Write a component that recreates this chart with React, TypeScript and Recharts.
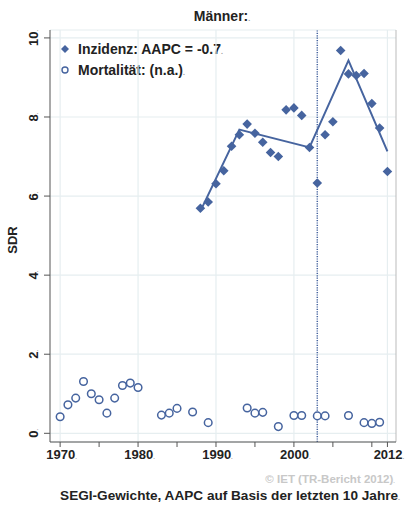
import React from "react";
import {
  ComposedChart,
  Scatter,
  Line,
  XAxis,
  YAxis,
  CartesianGrid,
  ReferenceLine,
} from "recharts";

// ---- data ----
const incidenceYears = [1988, 1989, 1990, 1991, 1992, 1993, 1994, 1995, 1996, 1997, 1998, 1999, 2000, 2001, 2002, 2003, 2004, 2005, 2006, 2007, 2008, 2009, 2010, 2011, 2012];
const incidenceValues = [5.69, 5.85, 6.31, 6.64, 7.26, 7.55, 7.82, 7.59, 7.36, 7.1, 7.0, 8.18, 8.23, 8.04, 7.23, 6.33, 7.55, 7.88, 9.68, 9.09, 9.05, 9.1, 8.34, 7.72, 6.62];

const mortalityYears = [1970, 1971, 1972, 1973, 1974, 1975, 1976, 1977, 1978, 1979, 1980, 1983, 1984, 1985, 1987, 1989, 1994, 1995, 1996, 1998, 2000, 2001, 2003, 2004, 2007, 2009, 2010, 2011];
const mortalityValues = [0.42, 0.72, 0.89, 1.31, 1.0, 0.85, 0.51, 0.89, 1.21, 1.27, 1.16, 0.46, 0.51, 0.63, 0.54, 0.27, 0.64, 0.51, 0.53, 0.17, 0.45, 0.45, 0.44, 0.44, 0.45, 0.27, 0.25, 0.28];

const trendYears = [1988, 1993, 2002, 2007, 2012];
const trendValues = [5.62, 7.68, 7.23, 9.43, 7.13];

const xTicks = [1970, 1975, 1980, 1985, 1990, 1995, 2000, 2005, 2010, 2012];
const xLabelled = [1970, 1980, 1990, 2000, 2012];
const yTicks = [0, 2, 4, 6, 8, 10];
const refYear = 2003;

const title = "Männer:";
const legendInc = "Inzidenz: AAPC = -0.7";
const legendMort = "Mortalität: (n.a.)";
const yLabel = "SDR";
const credit = "© IET (TR-Bericht 2012)";
const footnote = "SEGI-Gewichte, AAPC auf Basis der letzten 10 Jahre";

const incidence = incidenceYears.map((year, i) => ({ year, value: incidenceValues[i] }));
const mortality = mortalityYears.map((year, i) => ({ year, value: mortalityValues[i] }));
const trend = trendYears.map((year, i) => ({ year, value: trendValues[i] }));

const BLUE = "#46649f";
const GRID = "#e6eef0";
const FONT = "'Liberation Sans', Arial, sans-serif";
const DOT = "#9a9a9a";

const Diamond = (props: any) => {
  const { cx, cy } = props;
  if (cx == null || cy == null) return null;
  const r = 4.8;
  return (
    <polygon
      points={`${cx},${cy - r} ${cx + r},${cy} ${cx},${cy + r} ${cx - r},${cy}`}
      fill={BLUE}
    />
  );
};

const Ring = (props: any) => {
  const { cx, cy } = props;
  if (cx == null || cy == null) return null;
  return <circle cx={cx} cy={cy} r={3.8} fill="#fff" stroke={BLUE} strokeWidth={1.5} />;
};

const YTick = (props: any) => {
  const { y, payload } = props;
  const X = 38;
  return (
    <text
      x={X}
      y={y}
      transform={`rotate(-90 ${X} ${y})`}
      textAnchor="middle"
      fontFamily={FONT}
      fontWeight="bold"
      fontSize={13}
      fill="#222"
    >
      {payload.value}
      <tspan fontSize={6} fill={DOT}>.</tspan>
    </text>
  );
};

const XTick = (props: any) => {
  const { x, payload } = props;
  if (!xLabelled.includes(payload.value)) return null;
  return (
    <text
      x={x + 1.5}
      y={459}
      textAnchor="middle"
      fontFamily={FONT}
      fontWeight="bold"
      fontSize={13}
      fill="#222"
    >
      {payload.value}
      <tspan fontSize={6} fill={DOT}>.</tspan>
    </text>
  );
};

export default function App() {
  return (
    <div style={{ position: "absolute", left: 0, top: 0, width: 407, height: 508, background: "#fff" }}>
      <ComposedChart
        width={407}
        height={508}
        margin={{ top: 30, right: 11, left: 0, bottom: 0 }}
      >
        <CartesianGrid vertical={false} stroke={GRID} strokeWidth={1.2} />
        {xLabelled.map((yr) => (
          <ReferenceLine key={yr} x={yr} stroke={GRID} strokeWidth={1.2} />
        ))}
        <XAxis
          type="number"
          dataKey="year"
          domain={[1968.7, 2013.1]}
          ticks={xTicks}
          interval={0}
          height={66}
          tickSize={5}
          axisLine={{ stroke: "#555", strokeWidth: 1 }}
          tickLine={{ stroke: "#555", strokeWidth: 1 }}
          tick={<XTick />}
          allowDataOverflow
        />
        <YAxis
          type="number"
          dataKey="value"
          domain={[-0.22, 10.2]}
          ticks={yTicks}
          interval={0}
          width={50}
          tickSize={6}
          axisLine={{ stroke: "#555", strokeWidth: 1 }}
          tickLine={{ stroke: "#555", strokeWidth: 1 }}
          tick={<YTick />}
          allowDataOverflow
        />
        <ReferenceLine x={2013.1} stroke="#bbb" strokeWidth={1} />
        <ReferenceLine
          x={refYear}
          stroke={BLUE}
          strokeWidth={1.5}
          strokeDasharray="1.2 1.2"
        />
        <Line
          data={trend}
          dataKey="value"
          type="linear"
          stroke={BLUE}
          strokeWidth={2}
          dot={false}
          isAnimationActive={false}
        />
        <Scatter data={incidence} dataKey="value" shape={<Diamond />} isAnimationActive={false} />
        <Scatter data={mortality} dataKey="value" shape={<Ring />} isAnimationActive={false} />
        <text
          x={222}
          y={21}
          textAnchor="middle"
          fontFamily={FONT}
          fontWeight="bold"
          fontSize={14}
          fill="#222"
        >
          {title}
          <tspan fontSize={7} fill={DOT}>.</tspan>
        </text>
        <text
          x={17}
          y={240}
          transform="rotate(-90 17 240)"
          textAnchor="middle"
          fontFamily={FONT}
          fontWeight="bold"
          fontSize={13}
          fill="#222"
        >
          {yLabel}
        </text>
        <rect x={52} y={39} width={182} height={44} fill="#fff" />
        <polygon points="65,45 69,49 65,53 61,49" fill={BLUE} />
        <text x={78} y={54} fontFamily={FONT} fontWeight="bold" fontSize={14} fill="#222">
          {legendInc}
          <tspan fontSize={7} fill={DOT}>.</tspan>
        </text>
        <circle cx={65} cy={70} r={3} fill="#fff" stroke={BLUE} strokeWidth={1.4} />
        <text x={78} y={75} fontFamily={FONT} fontWeight="bold" fontSize={14} fill="#222">
          {legendMort}
          <tspan fontSize={7} fill={DOT}>.</tspan>
        </text>
        <text
          x={395}
          y={483}
          textAnchor="end"
          fontFamily={FONT}
          fontWeight="bold"
          fontSize={11.5}
          fill="#c8c8c8"
        >
          {credit}
          <tspan fontSize={6}>.</tspan>
        </text>
        <text
          x={400}
          y={500}
          textAnchor="end"
          fontFamily={FONT}
          fontWeight="bold"
          fontSize={13.6}
          fill="#222"
        >
          {footnote}
          <tspan fontSize={7} fill={DOT}>.</tspan>
        </text>
      </ComposedChart>
    </div>
  );
}
